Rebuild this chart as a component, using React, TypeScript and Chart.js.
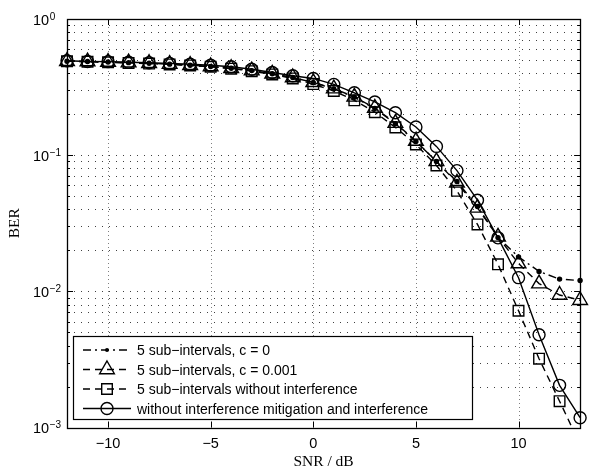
import React, { useEffect, useRef } from "react";
import { Chart, registerables } from "chart.js";

Chart.register(...registerables);

// ---------- data ----------
const snr = [-12, -11, -10, -9, -8, -7, -6, -5, -4, -3, -2, -1, 0, 1, 2, 3, 4, 5, 6, 7, 8, 9, 10, 11, 12, 13];

const berC0 = [0.49, 0.487, 0.483, 0.478, 0.473, 0.466, 0.458, 0.448, 0.435, 0.418, 0.396, 0.372, 0.342, 0.307, 0.266, 0.22, 0.17, 0.126, 0.09, 0.064, 0.042, 0.0248, 0.0179, 0.014, 0.0123, 0.012];
const berC001 = [0.49, 0.487, 0.483, 0.478, 0.473, 0.466, 0.458, 0.448, 0.435, 0.418, 0.396, 0.372, 0.343, 0.308, 0.268, 0.222, 0.172, 0.127, 0.09, 0.0626, 0.041, 0.0251, 0.016, 0.0114, 0.0094, 0.0086];
const berNoInterf = [0.49, 0.486, 0.481, 0.476, 0.471, 0.464, 0.456, 0.446, 0.432, 0.414, 0.392, 0.366, 0.333, 0.296, 0.253, 0.207, 0.16, 0.12, 0.084, 0.0547, 0.031, 0.0158, 0.0072, 0.0032, 0.00156, 0.00075];
const berNoMitig = [0.493, 0.488, 0.486, 0.481, 0.477, 0.472, 0.465, 0.457, 0.446, 0.428, 0.405, 0.383, 0.366, 0.331, 0.287, 0.246, 0.205, 0.161, 0.116, 0.077, 0.0467, 0.0247, 0.0126, 0.0048, 0.00204, 0.00118];

const seriesLabels = [
  "5 sub\u2212intervals, c = 0",
  "5 sub\u2212intervals, c = 0.001",
  "5 sub\u2212intervals without interference",
  "without interference mitigation and interference",
];

const xTickValues = [-10, -5, 0, 5, 10];
const xTickLabels = ["\u221210", "\u22125", "0", "5", "10"];
const yDecadeValues = [1, 0.1, 0.01, 0.001];
const yDecadeExponents = ["0", "\u22121", "\u22122", "\u22123"];
const xAxisTitle = "SNR / dB";
const yAxisTitle = "BER";

const SANS = '"Liberation Sans", Arial, Helvetica, sans-serif';
const SERIF = '"Liberation Serif", "Times New Roman", serif';

type Style = { pointStyle: string; radius: number; dash: number[]; filled: boolean };
const styles: Style[] = [
  { pointStyle: "circle", radius: 2, dash: [8, 4, 2, 4], filled: true },
  { pointStyle: "triangle", radius: 8.5, dash: [7, 5], filled: false },
  { pointStyle: "rect", radius: 7.5, dash: [7, 5], filled: false },
  { pointStyle: "circle", radius: 6, dash: [], filled: false },
];

function drawMarker(ctx: CanvasRenderingContext2D, st: Style, x: number, y: number) {
  ctx.save();
  ctx.setLineDash([]);
  ctx.lineWidth = 1.4;
  ctx.strokeStyle = "#000";
  ctx.fillStyle = "#000";
  const r = st.radius;
  ctx.beginPath();
  if (st.pointStyle === "circle") {
    ctx.arc(x, y, r, 0, Math.PI * 2);
  } else if (st.pointStyle === "triangle") {
    for (let i = 0; i < 3; i++) {
      const a = (i * 2 * Math.PI) / 3;
      const px = x + Math.sin(a) * r;
      const py = y - Math.cos(a) * r;
      if (i === 0) ctx.moveTo(px, py);
      else ctx.lineTo(px, py);
    }
    ctx.closePath();
  } else {
    const s = Math.SQRT1_2 * r;
    ctx.rect(x - s, y - s, 2 * s, 2 * s);
  }
  if (st.filled) ctx.fill();
  else ctx.stroke();
  ctx.restore();
}

const decorPlugin = {
  id: "decor",
  beforeDatasetsDraw(chart: any) {
    const { ctx, chartArea: a, scales } = chart;
    const xs = scales.x;
    const ys = scales.y;
    ctx.save();
    ctx.lineWidth = 1;
    // horizontal log grid (major + minor)
    ctx.strokeStyle = "rgba(0,0,0,0.75)";
    ctx.setLineDash([1, 6]);
    for (let k = -3; k < 0; k++) {
      for (let m = 1; m <= 9; m++) {
        const v = m * Math.pow(10, k);
        const py = Math.round(ys.getPixelForValue(v)) + 0.5;
        ctx.beginPath();
        ctx.moveTo(a.left, py);
        ctx.lineTo(a.right, py);
        ctx.stroke();
      }
    }
    // vertical grid
    ctx.strokeStyle = "rgba(0,0,0,0.5)";
    ctx.setLineDash([1, 3]);
    xTickValues.forEach((v) => {
      const px = Math.round(xs.getPixelForValue(v)) + 0.5;
      ctx.beginPath();
      ctx.moveTo(px, a.top);
      ctx.lineTo(px, a.bottom);
      ctx.stroke();
    });
    ctx.restore();
  },
  afterDraw(chart: any) {
    const { ctx, chartArea: a, scales } = chart;
    const xs = scales.x;
    const ys = scales.y;
    ctx.save();
    ctx.setLineDash([]);
    ctx.strokeStyle = "#000";
    ctx.lineWidth = 1;
    // ticks
    ctx.beginPath();
    for (let k = -3; k < 0; k++) {
      for (let m = 1; m <= 9; m++) {
        const v = m * Math.pow(10, k);
        const py = Math.round(ys.getPixelForValue(v)) + 0.5;
        const len = m === 1 ? 6 : 3;
        ctx.moveTo(a.left, py);
        ctx.lineTo(a.left + len, py);
        ctx.moveTo(a.right, py);
        ctx.lineTo(a.right - len, py);
      }
    }
    xTickValues.forEach((v) => {
      const px = Math.round(xs.getPixelForValue(v)) + 0.5;
      ctx.moveTo(px, a.bottom);
      ctx.lineTo(px, a.bottom - 6);
      ctx.moveTo(px, a.top);
      ctx.lineTo(px, a.top + 6);
    });
    ctx.stroke();
    // box
    ctx.lineWidth = 1.3;
    ctx.strokeRect(Math.round(a.left) + 0.5, Math.round(a.top) + 0.5, Math.round(a.right - a.left), Math.round(a.bottom - a.top));

    // y tick labels
    ctx.fillStyle = "#000";
    ctx.textAlign = "left";
    ctx.textBaseline = "alphabetic";
    yDecadeValues.forEach((v, i) => {
      const py = ys.getPixelForValue(v);
      ctx.font = `14.5px ${SANS}`;
      ctx.fillText("10", 33, py + 5.5);
      const w = ctx.measureText("10").width;
      ctx.font = `10px ${SANS}`;
      ctx.fillText(yDecadeExponents[i], 33 + w + 0.5, py + 0.5);
    });
    // x tick labels
    ctx.font = `14.5px ${SANS}`;
    ctx.textAlign = "center";
    xTickValues.forEach((v, i) => {
      ctx.fillText(xTickLabels[i], xs.getPixelForValue(v), a.bottom + 20.5);
    });
    // axis titles
    ctx.font = `15.5px ${SERIF}`;
    ctx.fillText(xAxisTitle, (a.left + a.right) / 2, 466);
    ctx.save();
    ctx.translate(19, (a.top + a.bottom) / 2);
    ctx.rotate(-Math.PI / 2);
    ctx.fillText(yAxisTitle, 0, 0);
    ctx.restore();

    // legend
    const lx = 73.5, ly = 336.5, lw = 399, lh = 83;
    ctx.fillStyle = "#fff";
    ctx.fillRect(lx, ly, lw, lh);
    ctx.strokeStyle = "#000";
    ctx.lineWidth = 1.2;
    ctx.strokeRect(lx, ly, lw, lh);
    const rowY = [350, 369.5, 389, 408.5];
    chart.data.datasets.forEach((ds: any, i: number) => {
      const st = styles[i];
      const cy = rowY[i];
      ctx.save();
      ctx.strokeStyle = "#000";
      ctx.lineWidth = 1.4;
      ctx.setLineDash(st.dash);
      ctx.beginPath();
      ctx.moveTo(83, cy);
      ctx.lineTo(131, cy);
      ctx.stroke();
      ctx.restore();
      drawMarker(ctx, st, 107, cy);
      ctx.fillStyle = "#000";
      ctx.font = `14px ${SANS}`;
      ctx.textAlign = "left";
      ctx.textBaseline = "alphabetic";
      ctx.fillText(ds.label, 137, cy + 5);
    });
    ctx.restore();
  },
};

export default function App() {
  const ref = useRef<HTMLCanvasElement | null>(null);
  useEffect(() => {
    if (!ref.current) return;
    const series = [berC0, berC001, berNoInterf, berNoMitig];
    const datasets = series.map((vals, i) => {
      const st = styles[i];
      return {
        label: seriesLabels[i],
        data: snr.map((x, j) => ({ x, y: vals[j] })),
        borderColor: "#000",
        borderWidth: 1.4,
        borderDash: st.dash,
        pointStyle: st.pointStyle,
        pointRadius: st.radius,
        pointBorderWidth: 1.4,
        pointBorderColor: "#000",
        pointBackgroundColor: st.filled ? "#000" : "rgba(0,0,0,0)",
        fill: false,
        tension: 0,
        clip: { left: 12, top: 12, right: 12, bottom: 0 },
      };
    });
    const chart = new Chart(ref.current, {
      type: "line",
      data: { datasets } as any,
      options: {
        animation: false,
        responsive: false,
        events: [],
        layout: { padding: { top: 19, right: 4, left: 0, bottom: 0 } },
        plugins: { legend: { display: false }, tooltip: { enabled: false }, title: { display: false } },
        scales: {
          x: {
            type: "linear",
            min: -12,
            max: 13,
            grid: { display: false, drawTicks: false },
            border: { display: false },
            ticks: { display: false },
            afterFit: (s: any) => {
              s.height = 42.5;
            },
          },
          y: {
            type: "logarithmic",
            min: 0.001,
            max: 1,
            grid: { display: false, drawTicks: false },
            border: { display: false },
            ticks: { display: false },
            afterFit: (s: any) => {
              s.width = 67;
            },
          },
        },
      } as any,
      plugins: [decorPlugin],
    });
    return () => chart.destroy();
  }, []);
  return (
    <div style={{ position: "fixed", left: 0, top: 0, width: 590, height: 470, background: "#fff" }}>
      <canvas ref={ref} width={590} height={470} style={{ display: "block" }} />
    </div>
  );
}
